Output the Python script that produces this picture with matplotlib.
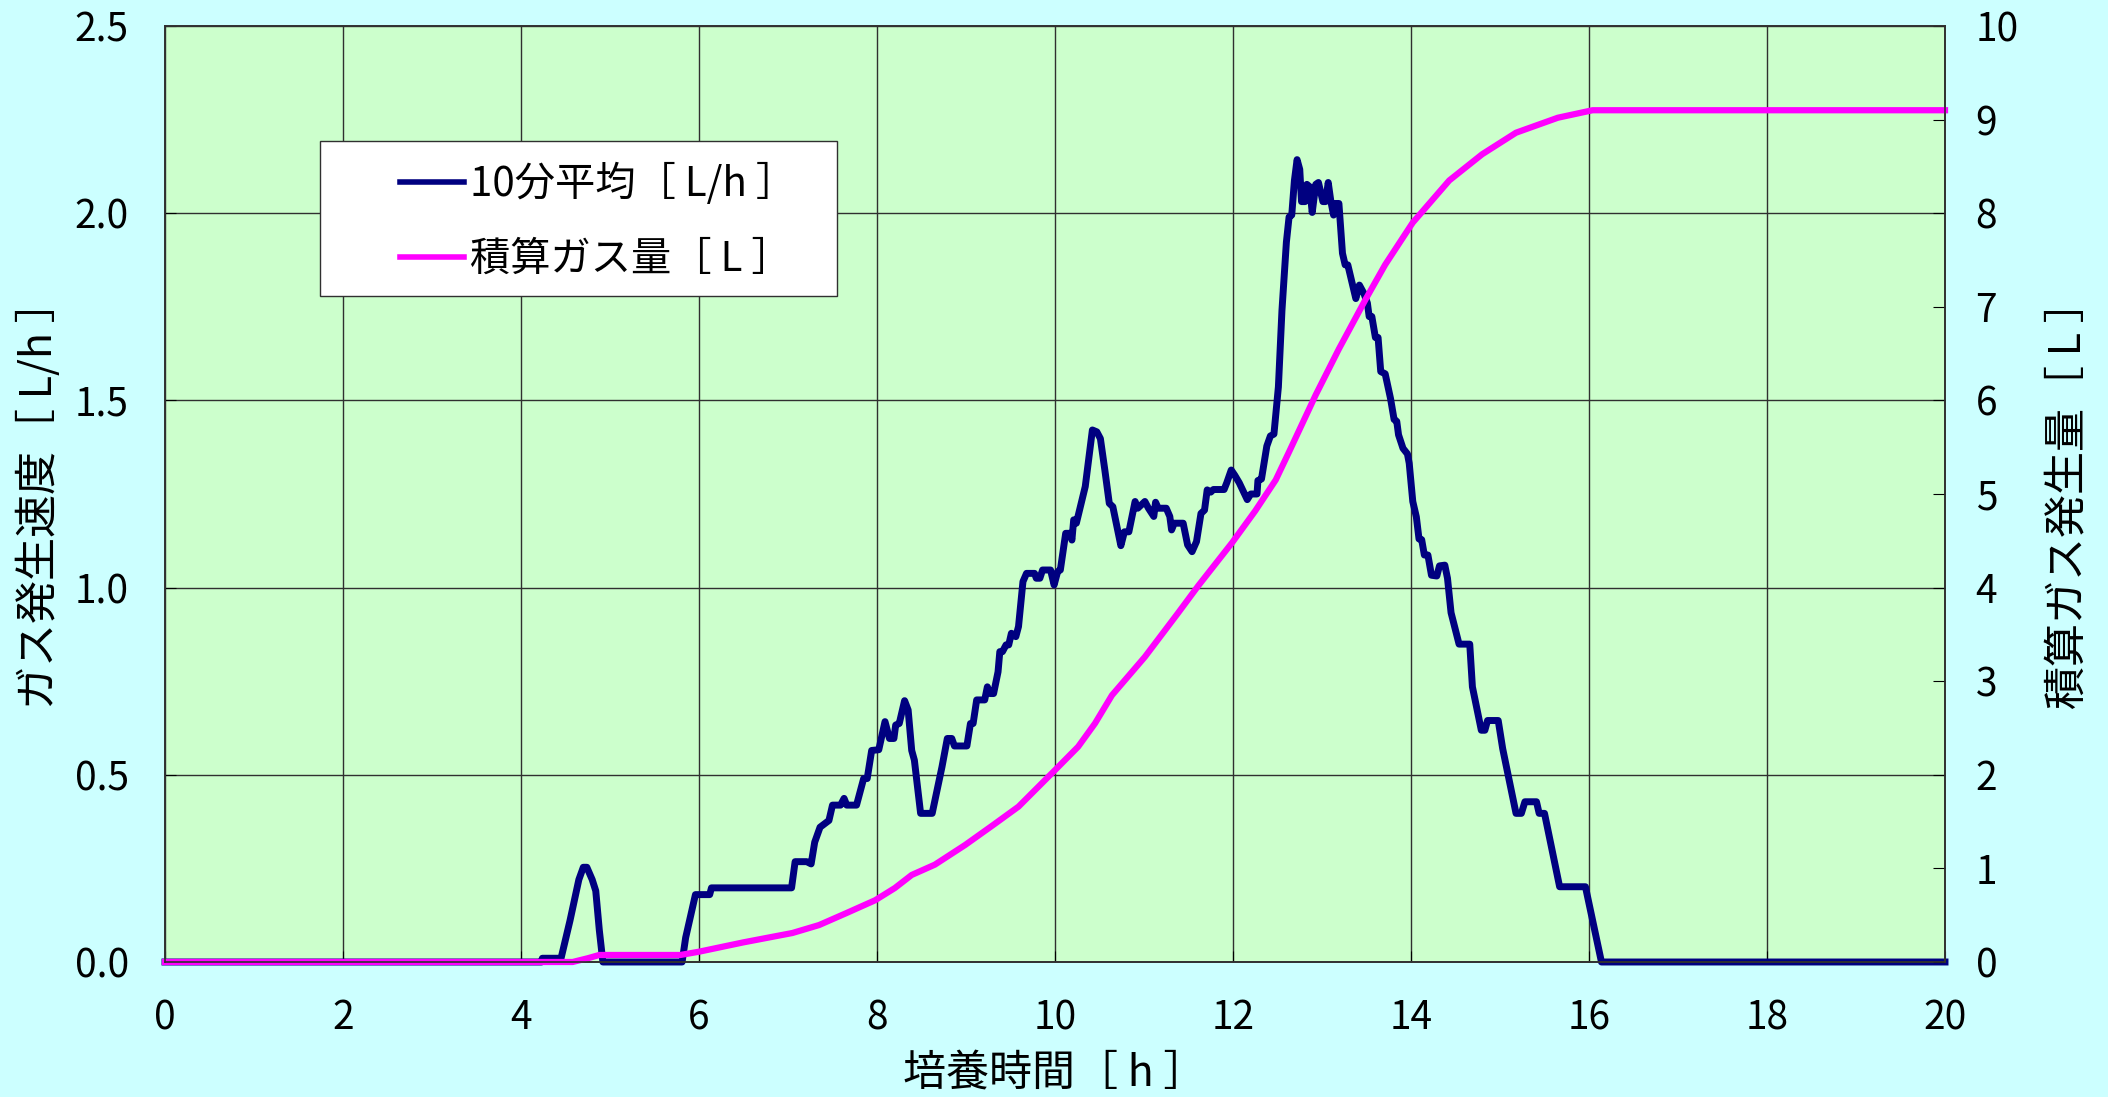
import numpy as np
import matplotlib
matplotlib.use("Agg")
import matplotlib.pyplot as plt
from matplotlib.patches import Rectangle

plt.rcParams['font.family'] = ['Noto Sans CJK JP', 'DejaVu Sans']

# 10-minute average gas rate [L/h] vs culture time [h]
rate_t = [0, 4.23, 4.24, 4.45, 4.55, 4.65, 4.70, 4.74, 4.80, 4.84, 4.88, 4.92,
          5.81, 5.85, 5.96, 6.12, 6.14, 7.04, 7.08, 7.21, 7.26, 7.30, 7.36, 7.46,
          7.50, 7.59, 7.63, 7.66, 7.77, 7.85, 7.89, 7.94, 8.02, 8.09, 8.14, 8.19,
          8.21, 8.25, 8.31, 8.35, 8.39, 8.42, 8.49, 8.62, 8.73, 8.79, 8.84, 8.87,
          9.01, 9.05, 9.08, 9.12, 9.21, 9.24, 9.27, 9.31, 9.36, 9.38, 9.41, 9.45,
          9.48, 9.51, 9.56, 9.59, 9.64, 9.68, 9.77, 9.79, 9.83, 9.86, 9.95, 9.99,
          10.03, 10.06, 10.12, 10.17, 10.19, 10.21, 10.24, 10.34, 10.42, 10.47,
          10.51, 10.56, 10.61, 10.65, 10.74, 10.78, 10.83, 10.90, 10.93, 11.01,
          11.05, 11.11, 11.13, 11.16, 11.25, 11.29, 11.31, 11.34, 11.44, 11.49,
          11.54, 11.59, 11.64, 11.68, 11.71, 11.75, 11.78, 11.90, 11.93, 11.98,
          12.02, 12.07, 12.12, 12.16, 12.20, 12.27, 12.28, 12.32, 12.38, 12.42,
          12.46, 12.51, 12.55, 12.60, 12.63, 12.66, 12.69, 12.72, 12.75, 12.77,
          12.81, 12.83, 12.86, 12.89, 12.93, 12.96, 13.01, 13.04, 13.07, 13.10,
          13.13, 13.15, 13.19, 13.23, 13.26, 13.29, 13.38, 13.42, 13.47, 13.51,
          13.53, 13.56, 13.60, 13.63, 13.66, 13.71, 13.77, 13.81, 13.84, 13.86,
          13.91, 13.96, 13.98, 14.02, 14.06, 14.09, 14.12, 14.15, 14.19, 14.23,
          14.29, 14.32, 14.38, 14.41, 14.45, 14.50, 14.54, 14.66, 14.69, 14.79,
          14.83, 14.86, 14.98, 15.03, 15.18, 15.24, 15.28, 15.41, 15.44, 15.50,
          15.67, 15.96, 16.14, 20]
rate_v = [0, 0, 0.01, 0.01, 0.11, 0.22, 0.253, 0.253, 0.22, 0.19, 0.085, 0.0,
          0.0, 0.065, 0.18, 0.18, 0.198, 0.198, 0.268, 0.268, 0.262, 0.32, 0.36, 0.378,
          0.419, 0.419, 0.437, 0.419, 0.419, 0.49, 0.49, 0.565, 0.567, 0.642, 0.597, 0.597,
          0.633, 0.637, 0.698, 0.673, 0.565, 0.539, 0.397, 0.397, 0.521, 0.597, 0.597, 0.577,
          0.577, 0.637, 0.637, 0.700, 0.700, 0.735, 0.717, 0.717, 0.775, 0.829, 0.829, 0.847,
          0.847, 0.878, 0.869, 0.896, 1.016, 1.038, 1.038, 1.025, 1.025, 1.047, 1.047, 1.007,
          1.043, 1.047, 1.145, 1.145, 1.127, 1.181, 1.172, 1.27, 1.421, 1.416,
          1.398, 1.314, 1.225, 1.216, 1.112, 1.149, 1.149, 1.23, 1.212, 1.23,
          1.212, 1.19, 1.228, 1.212, 1.212, 1.19, 1.154, 1.172, 1.172, 1.114,
          1.096, 1.123, 1.198, 1.207, 1.261, 1.255, 1.262, 1.262, 1.28, 1.314,
          1.300, 1.28, 1.255, 1.235, 1.25, 1.25, 1.286, 1.29, 1.378, 1.405,
          1.41, 1.536, 1.74, 1.923, 1.99, 1.995, 2.087, 2.143, 2.117, 2.031,
          2.031, 2.077, 2.071, 2.002, 2.077, 2.082, 2.031, 2.031, 2.082, 2.031,
          1.995, 2.026, 2.026, 1.893, 1.862, 1.862, 1.772, 1.808, 1.786, 1.76,
          1.724, 1.724, 1.668, 1.668, 1.577, 1.571, 1.505, 1.449, 1.444, 1.408,
          1.372, 1.357, 1.332, 1.23, 1.189, 1.13, 1.128, 1.087, 1.087, 1.033,
          1.031, 1.058, 1.06, 1.025, 0.933, 0.886, 0.849, 0.849, 0.735, 0.619,
          0.619, 0.645, 0.645, 0.57, 0.397, 0.397, 0.428, 0.428, 0.397, 0.397,
          0.201, 0.201, 0.0, 0]

# cumulative gas volume [L]
total_t = [0, 4.58, 4.75, 4.88, 5.79, 6.0, 6.5, 7.05, 7.35, 7.65, 7.98, 8.2,
           8.39, 8.65, 8.99, 9.30, 9.59, 10.0, 10.26, 10.45, 10.64, 11.01, 11.38,
           11.61, 11.99, 12.25, 12.48, 12.63, 12.93, 13.19, 13.49, 13.71, 14.02,
           14.43, 14.80, 15.18, 15.65, 16.04, 20]
total_v = [0, 0, 0.04, 0.075, 0.075, 0.11, 0.21, 0.31, 0.395, 0.52, 0.66, 0.79,
           0.93, 1.04, 1.25, 1.46, 1.66, 2.05, 2.30, 2.55, 2.85, 3.26, 3.725,
           4.02, 4.48, 4.82, 5.15, 5.45, 6.06, 6.55, 7.08, 7.45, 7.90,
           8.35, 8.63, 8.86, 9.02, 9.1, 9.1]

x_ticks = np.arange(0, 21, 2)
left_ticks = [0.0, 0.5, 1.0, 1.5, 2.0, 2.5]
right_ticks = np.arange(0, 11, 1)

fig = plt.figure(figsize=(21.08, 10.97), dpi=100, facecolor='#CCFFFF')
ax = fig.add_axes([165 / 2108, 1 - 962 / 1097, 1780 / 2108, 936 / 1097])
ax.set_facecolor('#CCFFCC')
ax2 = ax.twinx()

l1, = ax.plot(rate_t, rate_v, color='#000080', lw=5, clip_on=False,
              solid_joinstyle='round', label='10分平均［ L/h ］')
l2, = ax2.plot(total_t, total_v, color='#FF00FF', lw=4.5, clip_on=False,
               solid_joinstyle='round', label='積算ガス量［ L ］')

ax.set_xlim(0, 20)
ax.set_ylim(0, 2.5)
ax2.set_ylim(0, 10)
ax.set_xticks(x_ticks)
ax.set_yticks(left_ticks)
ax.set_yticklabels([f'{v:.1f}' for v in left_ticks])
ax2.set_yticks(right_ticks)

ax.grid(True, color='#303030', lw=1.0)
ax.set_axisbelow(True)

for a in (ax, ax2):
    for s in a.spines.values():
        s.set_color('#303030')
        s.set_linewidth(1.2)

ax.tick_params(axis='x', direction='in', length=8, pad=26, labelsize=28)
ax.tick_params(axis='y', direction='in', length=8, pad=26, labelsize=28)
ax2.tick_params(axis='y', direction='in', length=9, pad=22, labelsize=28)

ax.set_xlabel('培養時間［ h ］', fontsize=31, labelpad=10)
ax.set_ylabel('ガス発生速度［ L/h ］', fontsize=31, labelpad=9)
ax2.set_ylabel('積算ガス発生量［ L ］', fontsize=31, labelpad=20)

# legend box drawn separately so the padding can match
box = Rectangle((0.0871, 0.7115), 0.2904, 0.1655, transform=ax.transAxes,
                facecolor='white', edgecolor='#303030', lw=1.0, zorder=9)
ax2.add_patch(box)
leg = ax2.legend(handles=[l1, l2], loc='upper left',
                 bbox_to_anchor=(0.132, 0.854), fontsize=29, frameon=False,
                 borderpad=0, handlelength=1.6, handletextpad=0.15,
                 labelspacing=0.85, borderaxespad=0)
for line in leg.get_lines():
    line.set_linewidth(4)
leg.set_zorder(10)

fig.savefig('out.png', dpi=100, facecolor=fig.get_facecolor())
